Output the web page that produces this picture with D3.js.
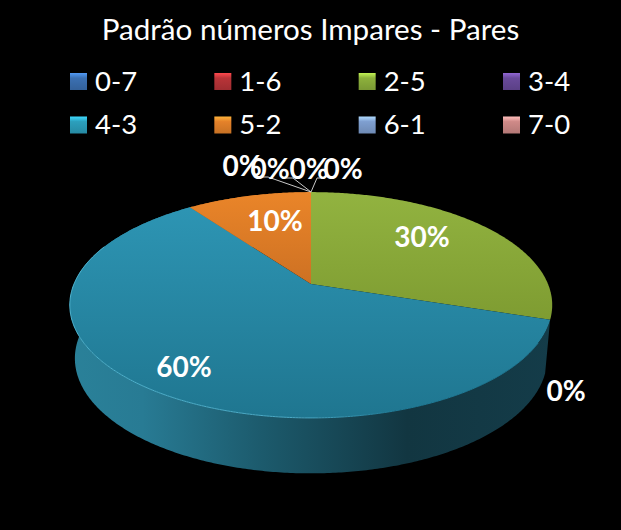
<!DOCTYPE html>
<html>
<head>
<meta charset="utf-8">
<script src="https://d3js.org/d3.v7.min.js"></script>
<style>
html, body { margin: 0; padding: 0; background: #000; }
svg { display: block; }
text { font-family: Lato, "Open Sans", sans-serif; fill: #fff; }
</style>
</head>
<body>
<div id="chart"></div>
<script>
var title = "Padrão números Impares - Pares";
var categories = ["0-7", "1-6", "2-5", "3-4", "4-3", "5-2", "6-1", "7-0"];
var values = [0, 0, 30, 0, 60, 10, 0, 0];
var colors = ["#3b70b2", "#b93438", "#8db13c", "#694a9a", "#2c9fbc", "#e5822a", "#7f9fd0", "#cf8a88"];

var w = 621,
h = 530;

var svg = d3.select("#chart")
.append("svg")
.attr("width", w)
.attr("height", h);

var defs = svg.append("defs");

svg.append("rect").attr("width", w).attr("height", h).attr("fill", "#000");

svg.append("text")
.attr("x", 310.5)
.attr("y", 40)
.attr("text-anchor", "middle")
.attr("font-size", "29.6px")
.text(title);

// legend, 4 columns and 2 rows
var col = d3.scalePoint().domain([0, 1, 2, 3]).range([70, 503]);
var row = d3.scalePoint().domain([0, 1]).range([82, 125.5]);

categories.forEach(function(c, i) {
    var g = defs.append("linearGradient")
    .attr("id", "leg" + i)
    .attr("x1", 0).attr("y1", 0).attr("x2", 0).attr("y2", 1);
    g.append("stop").attr("offset", "0").attr("stop-color", d3.color(colors[i]).brighter(0.9));
    g.append("stop").attr("offset", "0.3").attr("stop-color", colors[i]);
    g.append("stop").attr("offset", "1").attr("stop-color", d3.color(colors[i]).darker(0.4));
});

var legend = svg.selectAll(".legend")
.data(categories)
.enter()
.append("g")
.attr("class", "legend")
.attr("transform", function(d, i) {return "translate(" + col(i % 4) + "," + row(Math.floor(i / 4)) + ")";});

legend.append("rect")
.attr("x", 0)
.attr("y", -9)
.attr("width", 17)
.attr("height", 17)
.attr("fill", function(d, i) {return "url(#leg" + i + ")";});

legend.append("text")
.attr("x", 25)
.attr("y", 8.5)
.attr("font-size", "27.5px")
.text(function(d) {return d;});

// pie angles, perspective is worked out by project()
var pie = d3.pie().sort(null).value(function(d) {return d;});
var arcs = pie(values);
var total = d3.sum(values);

function project(a, disc) {
    var u = -Math.cos(a);
    var s = 1 - 0.186 * u;
    return [311 + disc.kx * Math.sin(a) / s, disc.cy + disc.ky * u / s];
}
var topDisc = {cy: 284, kx: 237, ky: 109};
var lowDisc = {cy: 337, kx: 232, ky: 111};
var line = d3.line();

function rim(start, end, disc) {
    var n = Math.max(2, Math.ceil((end - start) / 0.01));
    return d3.range(n + 1).map(function(i) {
        return project(start + (end - start) * i / n, disc);
    });
}

// side shading
var side = defs.append("linearGradient")
.attr("id", "sideTeal")
.attr("gradientUnits", "userSpaceOnUse")
.attr("x1", 70).attr("y1", 0).attr("x2", 552).attr("y2", 0);
side.append("stop").attr("offset", "0").attr("stop-color", "#2a8199");
side.append("stop").attr("offset", "0.15").attr("stop-color", "#287b94");
side.append("stop").attr("offset", "0.4").attr("stop-color", "#1c5a6c");
side.append("stop").attr("offset", "0.7").attr("stop-color", "#123641");
side.append("stop").attr("offset", "1").attr("stop-color", "#143c49");

// top shading, light to dark going down
function topGrad(id, c1, c2) {
    var g = defs.append("linearGradient")
    .attr("id", id)
    .attr("gradientUnits", "userSpaceOnUse")
    .attr("x1", 0).attr("y1", 192).attr("x2", 0).attr("y2", 418);
    g.append("stop").attr("offset", "0").attr("stop-color", c1);
    g.append("stop").attr("offset", "1").attr("stop-color", c2);
}
topGrad("top2", "#92b340", "#6f8a26");
topGrad("top4", "#2e97b6", "#1f7690");
topGrad("top5", "#ea8529", "#a4541a");

var drawn = arcs.map(function(d, i) {return {d: d, i: i};}).filter(function(o) {return o.d.value > 0;});

// only slices starting on the front half show a side
svg.selectAll(".side")
.data(drawn.filter(function(o) {return o.d.startAngle > Math.PI / 2;}))
.enter()
.append("path")
.attr("class", "side")
.attr("d", function(o) {
    var t = rim(o.d.startAngle, o.d.endAngle, topDisc);
    var b = rim(o.d.startAngle, o.d.endAngle, lowDisc).reverse();
    return line(t.concat(b)) + "Z";
})
.attr("fill", function(o) {return o.i == 4 ? "url(#sideTeal)" : d3.color(colors[o.i]).darker(1.2);});

svg.selectAll(".slice")
.data(drawn)
.enter()
.append("path")
.attr("class", "slice")
.attr("d", function(o) {
    return line([project(0, {cy: 284, kx: 0, ky: 0})].concat(rim(o.d.startAngle, o.d.endAngle, topDisc))) + "Z";
})
.attr("fill", function(o) {return "url(#top" + o.i + ")";});

// thin light bevel along the front of the big slice
var bevel = defs.append("linearGradient")
.attr("id", "bevel")
.attr("gradientUnits", "userSpaceOnUse")
.attr("x1", 70).attr("y1", 0).attr("x2", 400).attr("y2", 0);
bevel.append("stop").attr("offset", "0").attr("stop-color", "#4fb4d0");
bevel.append("stop").attr("offset", "0.7").attr("stop-color", "#4aa8c4");
bevel.append("stop").attr("offset", "1").attr("stop-color", "#1f7a96");

svg.append("path")
.attr("d", line(rim(arcs[4].startAngle + 0.2, arcs[4].startAngle + 3.2, topDisc)))
.attr("fill", "none")
.attr("stroke", "url(#bevel)")
.attr("stroke-width", 1);

// leader lines of the zero labels
var leaders = [
    [[311, 192], [268, 177], [262, 177]],
    [[311, 192], [293, 178], [286, 178]],
    [[311, 192], [317, 178], [324, 178]]
];
svg.selectAll(".leader")
.data(leaders)
.enter()
.append("path")
.attr("class", "leader")
.attr("d", line)
.attr("fill", "none")
.attr("stroke", "#c8c8c8")
.attr("stroke-width", 1);

// data labels, placed by hand like the original
var labelAt = [[270, 169], [309, 169], [422, 237], [566, 391], [184, 367], [275, 221], [242, 166], [343, 169]];
svg.selectAll(".label")
.data(arcs)
.enter()
.append("text")
.attr("class", "label")
.attr("x", function(d, i) {return labelAt[i][0];})
.attr("y", function(d, i) {return labelAt[i][1] + 10;})
.attr("text-anchor", "middle")
.attr("font-size", "28px")
.attr("font-weight", "bold")
.text(function(d) {return Math.round(d.value / total * 100) + "%";});
</script>
</body>
</html>
